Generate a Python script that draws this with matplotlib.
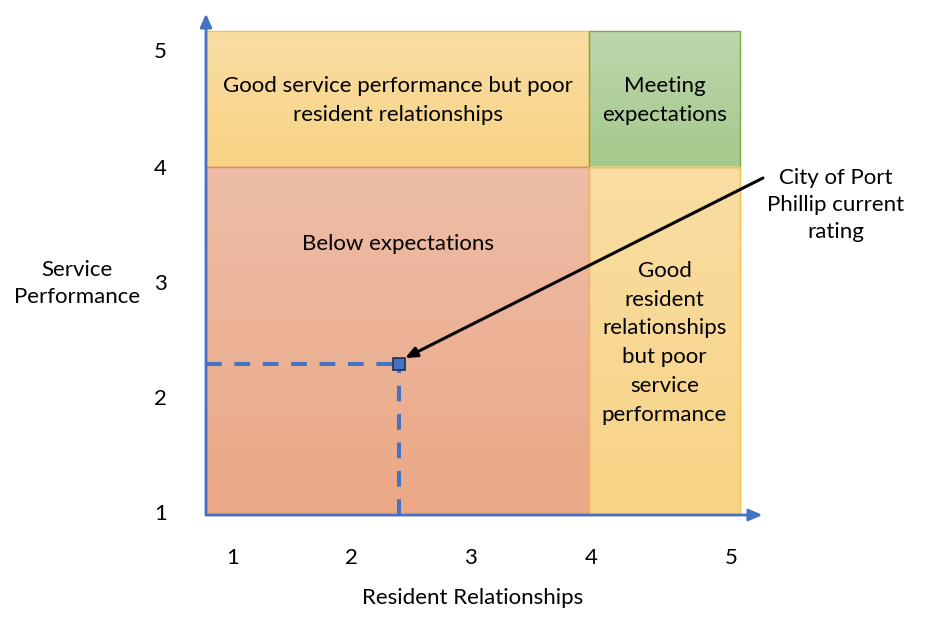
import numpy as np
import matplotlib.pyplot as plt
from matplotlib.colors import to_rgb

plt.rcParams['font.family'] = ['Lato', 'DejaVu Sans']

# quadrant boundaries (scale 1-5, split at 4)
split_x = 4
split_y = 4
current_x = 2.4
current_y = 2.3

x_tick_labels = ['1', '2', '3', '4', '5']
y_tick_labels = ['1', '2', '3', '4', '5']

quadrants = [
    # (x side, y side, label, top colour, bottom colour, edge colour)
    ('left', 'top', 'Good service performance but poor\nresident relationships',
     '#F9DDA3', '#F7D385', '#F2C14E'),
    ('right', 'top', 'Meeting\nexpectations', '#BDD6AB', '#A5C98D', '#70AD47'),
    ('left', 'bottom', 'Below expectations', '#EDBDA7', '#EBA886', '#E08C55'),
    ('right', 'bottom', 'Good\nresident\nrelationships\nbut poor\nservice\nperformance',
     '#F9DDA3', '#F7D385', '#F2C14E'),
]

W, H = 930, 632
fig = plt.figure(figsize=(W / 100, H / 100), dpi=100)
ax = fig.add_axes([206 / W, (H - 515) / H, (740 - 206) / W, (515 - 31) / H])

xmin, xmax = 0.773, 5.272
ymin, ymax = 1.0, 5.172
FS = 16


def gradient(c_top, c_bot, n=64):
    t = np.linspace(0, 1, n)[:, None]
    a = np.array(to_rgb(c_top))
    b = np.array(to_rgb(c_bot))
    return (a * (1 - t) + b * t)[:, None, :].repeat(2, axis=1)


for xs, ys, label, ctop, cbot, edge in quadrants:
    x0, x1 = (xmin, split_x) if xs == 'left' else (split_x, xmax)
    y0, y1 = (ymin, split_y) if ys == 'bottom' else (split_y, ymax)
    ax.imshow(gradient(ctop, cbot), extent=(x0, x1, y0, y1), aspect='auto',
              zorder=1, interpolation='bilinear')
    ax.add_patch(plt.Rectangle((x0, y0), x1 - x0, y1 - y0, fill=False,
                               edgecolor=edge, lw=1, zorder=2, clip_on=False))
    ty = (y0 + y1) / 2 - 0.015
    if label == 'Below expectations':
        ty = 3.34
    ax.text((x0 + x1) / 2, ty, label, ha='center', va='center', fontsize=FS,
            linespacing=1.55, zorder=5)

ax.set_xlim(xmin, xmax)
ax.set_ylim(ymin, ymax)

# dashed guide lines to the current rating
ax.plot([xmin, current_x], [current_y, current_y], ls=(0, (3.9, 3.15)),
        color='#4472C4', lw=2.9, zorder=6)
ax.plot([current_x, current_x], [ymin, current_y], ls=(0, (3.9, 3.15)),
        color='#4472C4', lw=2.9, zorder=6)
ax.plot([current_x], [current_y], marker='s', ms=9, color='#4472C4',
        mec='#1F2F4F', mew=1.2, zorder=7, clip_on=False)

# axes as arrows
for sp in ax.spines.values():
    sp.set_visible(False)
ax.annotate('', xy=(1.042, 0), xytext=(0, 0), xycoords='axes fraction',
            arrowprops=dict(arrowstyle='-|>,head_length=0.8,head_width=0.35',
                            color='#4472C4', lw=2, shrinkA=0, shrinkB=0), zorder=8)
ax.annotate('', xy=(0, 1.036), xytext=(0, 0), xycoords='axes fraction',
            arrowprops=dict(arrowstyle='-|>,head_length=0.8,head_width=0.35',
                            color='#4472C4', lw=2, shrinkA=0, shrinkB=0), zorder=8)

ax.set_xticks([1, 2, 3, 4.02, 5.2])
ax.set_xticklabels(x_tick_labels)
ax.set_yticks([1.03, 2.02, 3.01, 4.0, 5.01])
ax.set_yticklabels(y_tick_labels)
ax.tick_params(length=0, labelsize=FS)
ax.tick_params(axis='x', pad=24)
ax.tick_params(axis='y', pad=28)

ax.set_xlabel('Resident Relationships', fontsize=FS, labelpad=14)
ax.set_ylabel('Service\nPerformance', fontsize=FS, rotation=0, ha='center',
              va='center', linespacing=1.45)
ax.yaxis.set_label_coords(-0.2416, 0.479)

# callout
ax.annotate('', xy=(current_x + 0.05, current_y + 0.053), xytext=(5.466, 3.905),
            annotation_clip=False,
            arrowprops=dict(arrowstyle='-|>,head_length=0.7,head_width=0.3',
                            color='black', lw=2.2, shrinkA=0, shrinkB=0), zorder=9)
ax.text(6.08, 3.67, 'City of Port\nPhillip current\nrating', fontsize=FS,
        ha='center', va='center', linespacing=1.45, clip_on=False)

fig.savefig('out.png', dpi=100)
